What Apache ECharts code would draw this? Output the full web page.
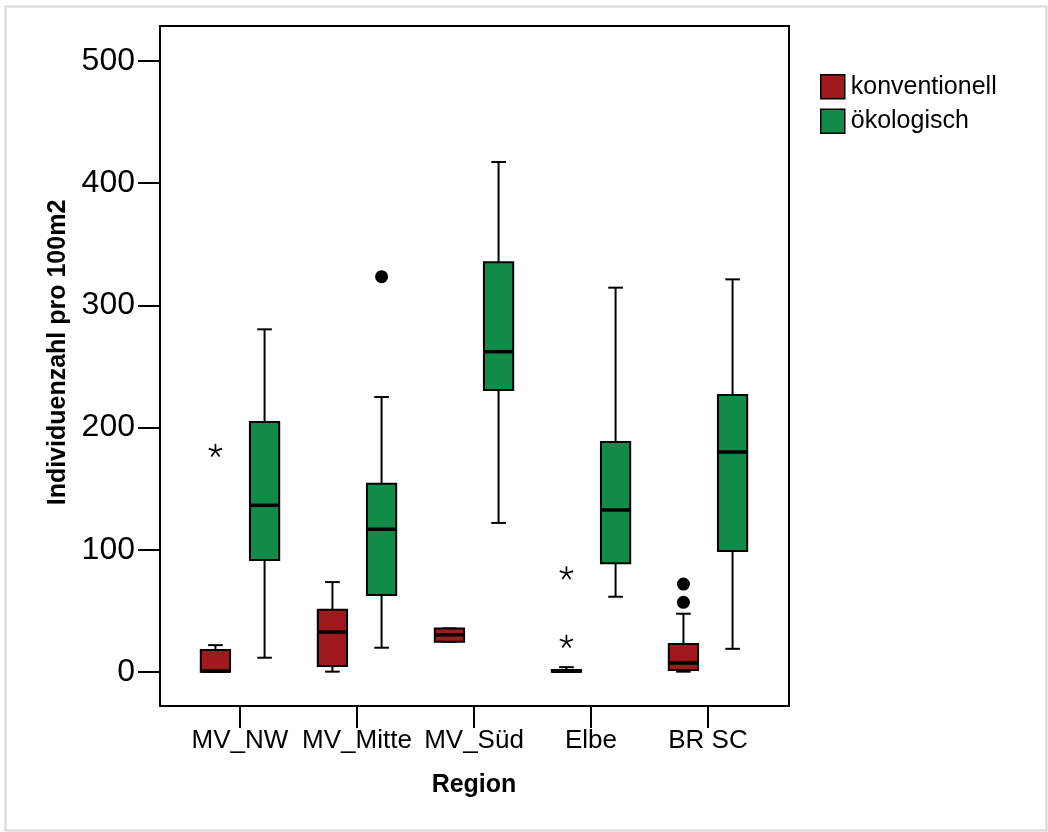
<!DOCTYPE html>
<html>
<head>
<meta charset="utf-8">
<title>Individuenzahl pro Region</title>
<script src="https://cdn.jsdelivr.net/npm/echarts@6/dist/echarts.min.js"></script>
<style>
  html, body { margin: 0; padding: 0; background: #fff; }
  #chart { width: 1048px; height: 832px; }
</style>
</head>
<body>
<div id="chart"></div>
<script>
  // Regionen (x-Achse)
  var regions = ['MV_NW', 'MV_Mitte', 'MV_Süd', 'Elbe', 'BR SC'];
  var yTicks = [0, 100, 200, 300, 400, 500];
  // sichtbarer Bereich der y-Achse (Rahmen oben/unten)
  var yMin = -27.8;
  var yMax = 528.6;

  // [min, Q1, Median, Q3, max] je Region
  var konvBoxes = [
    [0, 0.3, 0.8, 18, 22],
    [0.3, 5, 32.7, 51, 73.6],
    [24.8, 24.8, 30.5, 35.7, 35.7],
    [0, 0.2, 0.7, 1.6, 4],
    [0.3, 1.6, 7.4, 22.9, 47.7]
  ];
  var oekoBoxes = [
    [11.7, 91.7, 136.4, 204.6, 280.4],
    [19.9, 63, 116.8, 154, 225],
    [122, 230.8, 262.1, 335.3, 417.3],
    [61.6, 89, 132.6, 188.2, 314.5],
    [19, 99, 180, 226.7, 321.3]
  ];

  // Ausreisser: [Regionindex, Wert]
  var konvCircles = [[4, 72], [4, 57]];
  var konvStars = [[0, 181], [3, 80.8], [3, 24.8]];
  var oekoCircles = [[1, 323.5]];
  var oekoStars = [];

  var RED = '#A0191D';
  var GREEN = '#108C48';
  var FONT = 'Liberation Sans, Arial, sans-serif';

  function boxData(list) {
    return list.map(function (b, i) { return [i].concat(b); });
  }
  function outlierData(circles, stars) {
    return circles.map(function (p) { return [p[0], p[1], 0]; })
      .concat(stars.map(function (p) { return [p[0], p[1], 1]; }));
  }

  function renderBox(sign, color) {
    return function (params, api) {
      var cat = api.value(0);
      var band = api.size([1, 0])[0];
      var w = band * 0.25;
      var x = api.coord([cat, 0])[0] + sign * band * 0.21;
      var yLo = api.coord([cat, api.value(1)])[1];
      var yQ1 = api.coord([cat, api.value(2)])[1];
      var yMed = api.coord([cat, api.value(3)])[1];
      var yQ3 = api.coord([cat, api.value(4)])[1];
      var yHi = api.coord([cat, api.value(5)])[1];
      var cap = w / 4;
      var st = { stroke: '#000', lineWidth: 2 };
      return {
        type: 'group',
        children: [
          { type: 'line', shape: { x1: x, y1: yHi, x2: x, y2: yQ3 }, style: st },
          { type: 'line', shape: { x1: x, y1: yQ1, x2: x, y2: yLo }, style: st },
          { type: 'line', shape: { x1: x - cap, y1: yHi, x2: x + cap, y2: yHi }, style: st },
          { type: 'line', shape: { x1: x - cap, y1: yLo, x2: x + cap, y2: yLo }, style: st },
          { type: 'rect', shape: { x: x - w / 2, y: yQ3, width: w, height: yQ1 - yQ3 },
            style: { fill: color, stroke: '#000', lineWidth: 2 } },
          { type: 'line', shape: { x1: x - w / 2, y1: yMed, x2: x + w / 2, y2: yMed },
            style: { stroke: '#000', lineWidth: 3.5 } }
        ]
      };
    };
  }

  function renderOutlier(sign) {
    return function (params, api) {
      var cat = api.value(0);
      var band = api.size([1, 0])[0];
      var p = api.coord([cat, api.value(1)]);
      var x = p[0] + sign * band * 0.21;
      var y = p[1];
      if (api.value(2) === 0) {
        return { type: 'circle', shape: { cx: x, cy: y, r: 6.5 }, style: { fill: '#000' } };
      }
      var arms = [];
      for (var k = 0; k < 5; k++) {
        var a = (-90 + k * 72) * Math.PI / 180;
        arms.push({ type: 'line',
          shape: { x1: x, y1: y, x2: x + 7 * Math.cos(a), y2: y + 7 * Math.sin(a) },
          style: { stroke: '#000', lineWidth: 1.7 } });
      }
      return { type: 'group', children: arms };
    };
  }

  var chart = echarts.init(document.getElementById('chart'));
  chart.setOption({
    backgroundColor: '#fff',
    animation: false,
    textStyle: { fontFamily: FONT, color: '#000' },
    graphic: [{
      type: 'rect', left: 3, top: 4, silent: true,
      shape: { width: 1041, height: 824 },
      style: { fill: 'none', stroke: '#d6d6d6', lineWidth: 2 }
    }],
    legend: {
      orient: 'vertical',
      left: 820,
      top: 74,
      padding: 0,
      itemWidth: 24,
      itemHeight: 24,
      itemGap: 9,
      textStyle: { fontSize: 25, color: '#000', fontFamily: FONT, padding: [0, 0, 0, 1] },
      data: [
        { name: 'konventionell', icon: 'rect', itemStyle: { color: RED, borderColor: '#000', borderWidth: 1.5 } },
        { name: 'ökologisch', icon: 'rect', itemStyle: { color: GREEN, borderColor: '#000', borderWidth: 1.5 } }
      ]
    },
    grid: [
      { left: 181.5, right: 281.5, top: 26, bottom: 126, show: false },
      { left: 160, right: 259, top: 26, bottom: 126, show: true,
        borderColor: '#000', borderWidth: 2, backgroundColor: 'transparent' }
    ],
    xAxis: [
      {
        type: 'category', gridIndex: 0, data: regions,
        name: 'Region', nameLocation: 'middle', nameGap: 67,
        nameTextStyle: { fontSize: 25, fontWeight: 'bold', color: '#000', fontFamily: FONT },
        axisLine: { show: false, onZero: false },
        axisTick: { show: true, alignWithLabel: true, length: 22, lineStyle: { color: '#000', width: 2 } },
        axisLabel: { fontSize: 26, color: '#000', margin: 22, interval: 0, fontFamily: FONT },
        splitLine: { show: false }
      },
      { type: 'value', gridIndex: 1, show: false }
    ],
    yAxis: [
      {
        type: 'value', gridIndex: 0, min: yMin, max: yMax,
        offset: 21.5,
        name: 'Individuenzahl pro 100m2', nameLocation: 'middle', nameGap: 87,
        nameTextStyle: { fontSize: 25, fontWeight: 'bold', color: '#000', fontFamily: FONT, padding: [0, 0, 0, 27] },
        axisLine: { show: false },
        axisTick: { show: true, length: 22, customValues: yTicks, lineStyle: { color: '#000', width: 2 } },
        axisLabel: { fontSize: 32, color: '#000', margin: 25, customValues: yTicks, fontFamily: FONT },
        splitLine: { show: false }
      },
      { type: 'value', gridIndex: 1, show: false }
    ],
    series: [
      {
        name: 'konventionell', type: 'custom', xAxisIndex: 0, yAxisIndex: 0,
        itemStyle: { color: RED },
        renderItem: renderBox(-1, RED),
        encode: { x: 0, y: [1, 2, 3, 4, 5] },
        data: boxData(konvBoxes)
      },
      {
        name: 'ökologisch', type: 'custom', xAxisIndex: 0, yAxisIndex: 0,
        itemStyle: { color: GREEN },
        renderItem: renderBox(1, GREEN),
        encode: { x: 0, y: [1, 2, 3, 4, 5] },
        data: boxData(oekoBoxes)
      },
      {
        name: 'konventionell Ausreißer', type: 'custom', xAxisIndex: 0, yAxisIndex: 0,
        renderItem: renderOutlier(-1),
        encode: { x: 0, y: 1 },
        data: outlierData(konvCircles, konvStars)
      },
      {
        name: 'ökologisch Ausreißer', type: 'custom', xAxisIndex: 0, yAxisIndex: 0,
        renderItem: renderOutlier(1),
        encode: { x: 0, y: 1 },
        data: outlierData(oekoCircles, oekoStars)
      }
    ]
  });
</script>
</body>
</html>
